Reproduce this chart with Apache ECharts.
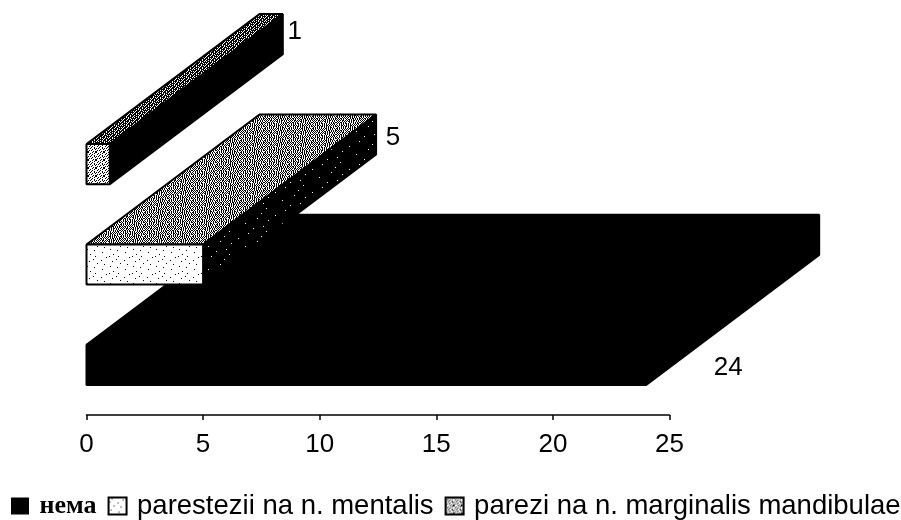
<!DOCTYPE html>
<html>
<head>
<meta charset="utf-8">
<style>html,body{margin:0;padding:0;background:#fff}#main{width:901px;height:520px}</style>
<script src="https://cdn.jsdelivr.net/npm/echarts@6/dist/echarts.min.js"></script>
</head>
<body>
<div id="main"></div>
<script>
const categories = ['нема', 'parestezii na n. mentalis', 'parezi na n. marginalis mandibulae'];
const values = [24, 5, 1];
const ticks = [0, 5, 10, 15, 20, 25];

function makePattern(rows, ink, paper) {
    let c = document.createElement('canvas');
    c.width = rows[0].length;
    c.height = rows.length;
    let ctx = c.getContext('2d');
    ctx.fillStyle = paper || '#fff';
    ctx.fillRect(0, 0, c.width, c.height);
    ctx.fillStyle = ink || '#000';
    rows.forEach((r, y) => {
        for (let x = 0; x < r.length; x++) {
            if (r[x] === '#') ctx.fillRect(x, y, 1, 1);
        }
    });
    return { image: c, repeat: 'repeat' };
}

// mottled dither for the top faces
const mottled = makePattern([
    '#.#.#.##.#.#.#.#.##.#.#.',
    '.#.#..#.#.#.##.#.#..#.#.',
    '#.#.##.#.#...#.#.#.#.#.#',
    '.#.#.#.#.##.#.#..#.#.##.',
    '#..#.#.#..#.#.#.#.#.#.#.',
    '.#.#.##.#.#.#.##.#.#.#.#',
    '#.#..#.#.##.#.#.#.#..#.#',
    '.#.#.#.#.#..#.#.#.##.#..',
    '##.#.#.#.#.#.##.#.#.#.#.',
    '.#.#..#.#.#.#.#.#.#.#..#',
    '#.#.##.#.#.#..#.##.#.#.#',
    '.#.#.#.#..#.##.#.#.#.#.#'
]);
// darker version for the thin bar
const mottledDark = makePattern([
    '##.###.##.##',
    '#.##.####.#.',
    '.###.#.#.###',
    '##.####.##.#',
    '#.##.#.###.#',
    '.#.###.#.###',
    '####.###.#.#',
    '#.#.###.###.'
]);
// sparse specks on the front of the "5" bar
const specks = makePattern([
    '.......................',
    '...#.............#.....',
    '..............#........',
    '.......................',
    '.#.....................',
    '.........#.............',
    '....................#..',
    '.......................',
    '.....#.................',
    '............#..........',
    '.......................',
    '..................#....',
    '..#....................',
    '.......................',
    '..........#............',
    '.......................',
    '.....................#.'
]);
// white specks on the black side of the "5" bar
const sideSpecks = makePattern([
    '.....................................',
    '.......#.............................',
    '.....................................',
    '..........................#..........',
    '.....................................',
    '.....................................',
    '..#..................................',
    '.....................................',
    '................#....................',
    '.....................................',
    '.....................................',
    '...................................#.',
    '.....................................',
    '.........#...........................',
    '.....................................',
    '.....................................',
    '.......................#.............',
    '.....................................',
    '.....................................',
    '....#................................',
    '.....................................',
    '...............................#.....',
    '.....................................'
], '#fff', '#000');
// denser grain on the front of the "1" bar
const grain = makePattern([
    '#...#..#',
    '..#...#.',
    '.#..#...',
    '...#..#.',
    '#.#...#.',
    '....#..#',
    '.#.#....',
    '#....#.#'
]);

const faces = [
    { front: '#000', top: '#000', side: '#000' },
    { front: specks, top: mottled, side: sideSpecks },
    { front: grain, top: mottledDark, side: '#000' }
];

function renderBar(params, api) {
    let v = api.value(0);
    let cat = api.value(1);
    let end = api.coord([v, cat]);
    let start = api.coord([0, cat]);
    let h = api.size([0, 1])[1] * 0.4;
    let dx = 173, dy = -130;
    let x0 = start[0], x1 = end[0], t = end[1] - h / 2, b = end[1] + h / 2;
    let f = faces[cat];
    let line = { stroke: '#000', lineWidth: 2, lineJoin: 'bevel' };
    // value label sits next to the bar, offset differs per bar as in the original
    let lab = [[82, 3], [190, -127], [185, -132]][cat];
    return {
        type: 'group',
        children: [
            { type: 'polygon', shape: { points: [[x0, t], [x0 + dx, t + dy], [x1 + dx, t + dy], [x1, t]] }, style: Object.assign({ fill: f.top }, line) },
            { type: 'polygon', shape: { points: [[x1, t], [x1 + dx, t + dy], [x1 + dx, b + dy], [x1, b]] }, style: Object.assign({ fill: f.side }, line) },
            { type: 'rect', shape: { x: x0, y: t, width: x1 - x0, height: b - t }, style: Object.assign({ fill: f.front }, line) },
            { type: 'text', x: x1 + lab[0], y: end[1] + lab[1], style: { text: String(v), fill: '#000', font: '26px "Liberation Sans"', align: 'center', verticalAlign: 'middle' } }
        ]
    };
}

let myChart = echarts.init(document.getElementById('main'));

let option = {
    animation: false,
    backgroundColor: '#fff',
    grid: { left: 86.5, right: 231.5, top: 114, height: 301 },
    xAxis: {
        type: 'value',
        min: ticks[0],
        max: ticks[ticks.length - 1],
        interval: 5,
        axisLine: { show: true, lineStyle: { color: '#000', width: 1.5 } },
        axisTick: { show: true, length: 5, lineStyle: { color: '#000', width: 1.5 } },
        axisLabel: { color: '#000', fontSize: 26, fontFamily: 'Liberation Sans', margin: 17 },
        splitLine: { show: false }
    },
    yAxis: {
        type: 'category',
        data: categories,
        show: false
    },
    legend: {
        left: 11,
        top: 492,
        width: 1000,
        padding: 0,
        itemWidth: 18,
        itemHeight: 17,
        itemGap: 11,
        icon: 'rect',
        selectedMode: false,
        textStyle: {
            color: '#000',
            fontSize: 27.5,
            fontFamily: 'Liberation Sans',
            rich: { ru: { fontFamily: 'Liberation Serif', fontSize: 26, fontWeight: 'bold' } }
        },
        // thin space keeps the wider gap between swatch and text
        formatter: name => name === categories[0] ? '\u2009{ru|' + name + '}' : '\u2009' + name,
        data: categories.map((name, i) => ({
            name: name,
            itemStyle: { color: faces[i].front, borderColor: '#000', borderWidth: i ? 2 : 0 }
        }))
    },
    series: categories.map((name, i) => ({
        type: 'custom',
        name: name,
        renderItem: renderBar,
        clip: false,
        encode: { x: 0, y: 1 },
        data: [[values[i], i]]
    }))
};

myChart.setOption(option);
</script>
</body>
</html>
